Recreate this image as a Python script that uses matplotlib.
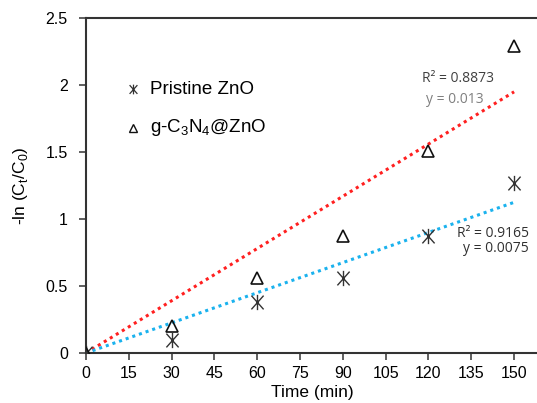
import matplotlib
matplotlib.use("Agg")
import matplotlib.pyplot as plt
from matplotlib.path import Path
import numpy as np

time = [0, 30, 60, 90, 120, 150]
pristine = [0, 0.10, 0.38, 0.56, 0.87, 1.27]
gcn = [0, 0.20, 0.56, 0.87, 1.51, 2.29]
slope_pristine = 0.0075
slope_gcn = 0.013
xticks = [0, 15, 30, 45, 60, 75, 90, 105, 120, 135, 150]
yticks = [0, 0.5, 1, 1.5, 2, 2.5]
ytick_labels = ["0", "0.5", "1", "1.5", "2", "2.5"]

plt.rcParams['font.family'] = ['Liberation Sans', 'DejaVu Sans']

star = Path([(0, -1), (0, 1), (-0.8, -0.9), (0.8, 0.9), (-0.8, 0.9), (0.8, -0.9)],
            [Path.MOVETO, Path.LINETO, Path.MOVETO, Path.LINETO, Path.MOVETO, Path.LINETO])

fig = plt.figure(figsize=(5.37, 4.03), dpi=100)
ax = fig.add_axes([0.160, 0.124, 0.842, 0.831])

fit_x = np.array([0, 150])
ax.plot(fit_x, slope_gcn * fit_x, color='#FF2020', linestyle=(0, (1, 1.3)), lw=2.2, zorder=2)
ax.plot(fit_x, slope_pristine * fit_x, color='#1AB2EE', linestyle=(0, (1, 1.3)), lw=2.2, zorder=2)

ax.plot(time, pristine, linestyle='none', marker=star, markersize=11,
        markeredgecolor='#333333', markeredgewidth=1.0, color='#333333', zorder=3)
ax.plot(time, gcn, linestyle='none', marker='^', markersize=8.5,
        markerfacecolor='none', markeredgecolor='#111111', markeredgewidth=1.2, zorder=3)

ax.set_xlim(0, 158.4)
ax.set_ylim(0, 2.5)
ax.set_xticks(xticks)
ax.set_yticks(yticks)
ax.set_yticklabels(ytick_labels)
ax.tick_params(axis='both', labelsize=11.5, length=5, width=1.2, color='#444444', direction='out')
ax.tick_params(axis='y', pad=8)
ax.tick_params(axis='x', pad=4)
for s in ['left', 'bottom', 'top']:
    ax.spines[s].set_linewidth(1.5)
    ax.spines[s].set_color('#333333')
ax.spines['right'].set_visible(False)

ax.set_xlabel('Time (min)', fontsize=12.5, labelpad=3)
ax.set_ylabel(r'-ln (C$_\mathregular{t}$/C$_\mathregular{0}$)', fontsize=12.5, labelpad=11)

# legend-like annotations
ax.plot([16.5], [1.97], linestyle='none', marker=star, markersize=7,
        markeredgecolor='#333333', markeredgewidth=0.9, clip_on=False)
ax.text(22.5, 1.97, 'Pristine ZnO', fontsize=13.5, va='center', ha='left')
ax.plot([16.5], [1.68], linestyle='none', marker='^', markersize=6,
        markerfacecolor='none', markeredgecolor='#111111', markeredgewidth=1.0)
ax.text(22.5, 1.68, r'g-C$_\mathregular{3}$N$_\mathregular{4}$@ZnO', fontsize=13.5, va='center', ha='left')

ann = dict(fontsize=10, va='center', family=['Open Sans', 'DejaVu Sans'])
ax.text(143.0, 2.05, 'R² = 0.8873', ha='right', color='#404040', **ann)
ax.text(139.4, 1.89, 'y = 0.013', ha='right', color='#7F7F7F', **ann)
ax.text(155.3, 0.896, 'R² = 0.9165', ha='right', color='#303030', **ann)
ax.text(155.3, 0.784, 'y = 0.0075', ha='right', color='#303030', **ann)

fig.savefig('out.png', dpi=100)
